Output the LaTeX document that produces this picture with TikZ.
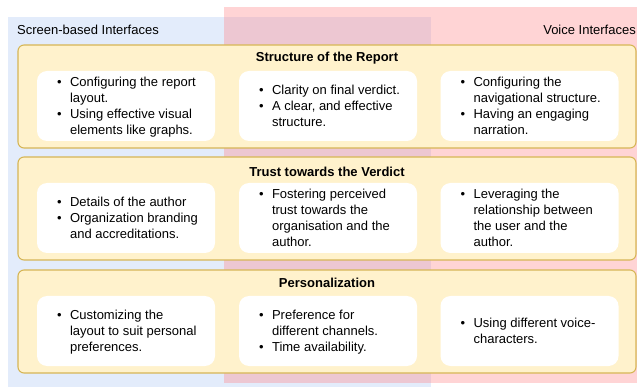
\documentclass[tikz,border=0pt]{standalone}
\usepackage{fontspec}
\setmainfont{Liberation Sans}
\usetikzlibrary{calc}
\definecolor{screenblue}{RGB}{227,236,251}
\definecolor{voicered}{RGB}{255,138,140}
\definecolor{rowfill}{RGB}{255,242,204}
\definecolor{rowline}{RGB}{214,182,86}
\newcommand{\bul}{\textbullet}
\newenvironment{blist}{\begin{tabular}{@{}l@{\hspace{8.5pt}}l@{}}}{\end{tabular}}

\begin{document}
\begin{tikzpicture}[x=1pt,y=-1pt,
  font=\fontsize{13}{16}\selectfont,
  rowbox/.style={draw=rowline, fill=rowfill, line width=1.1pt, rounded corners=6pt,
    minimum width=618pt, minimum height=103pt, inner sep=0pt},
  cellbox/.style={fill=white, rounded corners=10pt, minimum width=178pt,
    minimum height=70pt, inner sep=0pt},
  celltext/.style={anchor=west, inner sep=0pt, align=left},
  rowtitle/.style={font=\fontsize{13}{16}\selectfont\bfseries, inner sep=0pt}]
\useasboundingbox (0,0) rectangle (637,387);
% the two interface areas
\fill[screenblue] (8,17) rectangle (431,387);
\fill[voicered, fill opacity=.37] (224,7) rectangle (637,383);
\node[anchor=west, inner sep=0pt] (screen) at (17,30) {Screen-based Interfaces};
\node[anchor=east, inner sep=0pt] (voice) at (636,30) {Voice Interfaces};
% rows
\node[rowbox] (r1) at (327,96.5) {};
\node[rowbox] (r2) at (327,208.5) {};
\node[rowbox] (r3) at (327,321.5) {};
\node[rowtitle] (t1) at (327,58) {Structure of the Report};
\node[rowtitle] (t2) at (327,172) {Trust towards the Verdict};
\node[rowtitle] (t3) at (327,283) {Personalization};
% cells
\foreach \r/\y in {1/106,2/218,3/331}{
  \node[cellbox] (c\r1) at (126,\y) {};
  \node[cellbox] (c\r2) at (328,\y) {};
  \node[cellbox] (c\r3) at (529.5,\y) {};
}
%     1st row
\node[celltext] (x11) at ($(c11.west)+(20,1.5)$) {\begin{blist}
\bul & Configuring the report\\ & layout.\\
\bul & Using effective visual\\ & elements like graphs.\end{blist}};
\node[celltext] (x12) at ($(c12.west)+(20,1.5)$) {\begin{blist}
\bul & Clarity on final verdict.\\
\bul & A clear, and effective\\ & structure.\end{blist}};
\node[celltext] (x13) at ($(c13.west)+(20,1.5)$) {\begin{blist}
\bul & Configuring the\\ & navigational structure.\\
\bul & Having an engaging\\ & narration.\end{blist}};
%     2nd row
\node[celltext] (x21) at ($(c21.west)+(20,1.5)$) {\begin{blist}
\bul & Details of the author\\
\bul & Organization branding\\ & and accreditations.\end{blist}};
\node[celltext] (x22) at ($(c22.west)+(20,1.5)$) {\begin{blist}
\bul & Fostering perceived\\ & trust towards the\\ & organisation and the\\ & author.\end{blist}};
\node[celltext] (x23) at ($(c23.west)+(20,1.5)$) {\begin{blist}
\bul & Leveraging the\\ & relationship between\\ & the user and the\\ & author.\end{blist}};
%     3rd row
\node[celltext] (x31) at ($(c31.west)+(20,1.5)$) {\begin{blist}
\bul & Customizing the\\ & layout to suit personal\\ & preferences.\end{blist}};
\node[celltext] (x32) at ($(c32.west)+(20,1.5)$) {\begin{blist}
\bul & Preference for\\ & different channels.\\
\bul & Time availability.\end{blist}};
\node[celltext] (x33) at ($(c33.west)+(20,1.5)$) {\begin{blist}
\bul & Using different voice-\\ & characters.\end{blist}};
\end{tikzpicture}
\end{document}
